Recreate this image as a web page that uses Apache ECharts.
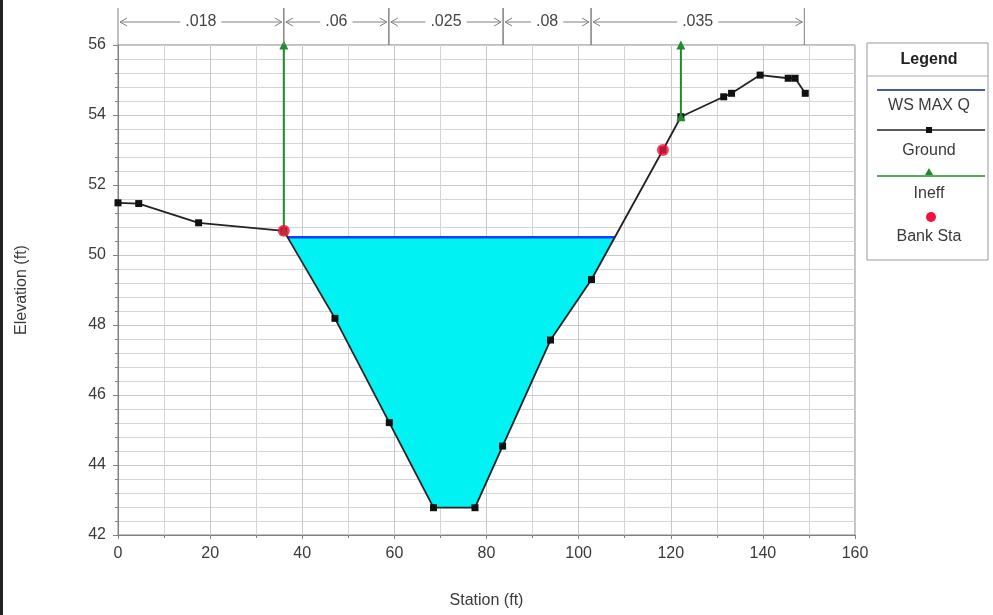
<!DOCTYPE html>
<html>
<head>
<meta charset="utf-8">
<script src="https://cdn.jsdelivr.net/npm/echarts@6/dist/echarts.min.js"></script>
<style>
  html, body { margin: 0; padding: 0; background: #fff; }
  #chart { width: 993px; height: 615px; }
</style>
</head>
<body>
<div id="chart"></div>
<script>
// cross section data
var groundSta = [0, 4.5, 17.5, 36, 47.1, 58.9, 68.5, 77.5, 83.5, 93.9, 102.8, 118.3, 122.2, 131.5, 133.2, 139.4, 145.5, 147, 149.2];
var groundElev = [51.49, 51.47, 50.92, 50.69, 48.19, 45.21, 42.78, 42.78, 44.54, 47.57, 49.3, 53.0, 53.95, 54.52, 54.62, 55.14, 55.05, 55.05, 54.62];
var wsElev = 50.51;
var bankSta = [36, 118.3];
var bankElev = [50.69, 53.0];
var ineffSta = [36, 122.2];
var ineffBottom = [50.69, 53.95];
var ineffTop = [56, 56];
var nSta = [0, 36, 58.8, 83.6, 102.7, 149];
var nVal = ['.018', '.06', '.025', '.08', '.035'];
var xTicks = [0, 160, 20];
var yTicks = [42, 56, 2];

var font = "'Liberation Sans', Arial, sans-serif";

//地面线
var ground = [];
for (var i = 0; i < groundSta.length; i++) {
	ground.push([groundSta[i], groundElev[i]]);
}

//水面多边形（地面线与水面的交点）
function waterPoly() {
	var pts = [];
	for (var i = 0; i < ground.length - 1; i++) {
		var a = ground[i], b = ground[i + 1];
		if (a[1] <= wsElev) pts.push(a);
		if ((a[1] - wsElev) * (b[1] - wsElev) < 0) {
			var t = (wsElev - a[1]) / (b[1] - a[1]);
			pts.push([a[0] + t * (b[0] - a[0]), wsElev]);
		}
	}
	return pts;
}
var water = waterPoly();
var wsLine = [water[0], water[water.length - 1]];

var bank = [];
for (var i = 0; i < bankSta.length; i++) bank.push([bankSta[i], bankElev[i]]);

var nData = [];
for (var i = 0; i < nVal.length; i++) nData.push([nSta[i], nSta[i + 1]]);

var ineffSeries = [];
for (var i = 0; i < ineffSta.length; i++) {
	ineffSeries.push({
		type: 'line',
		data: [[ineffSta[i], ineffBottom[i]], [ineffSta[i], ineffTop[i]]],
		symbol: 'triangle',
		symbolSize: 9,
		clip: false,
		z: 4,
		lineStyle: { color: '#1f8a2e', width: 2 },
		itemStyle: { color: '#1f8a2e' },
		silent: true
	});
}

var container = echarts.init(document.getElementById('chart'));

var gray = '#808080';
var txt = '#3a3a3a';
var lx = 877, lx2 = 985, lc = 929;

option = {
	animation: false,
	backgroundColor: '#fff',
	grid: { left: 118, right: 138, top: 45, bottom: 80, show: true, borderColor: gray, borderWidth: 1 },
	xAxis: {
		type: 'value',
		min: xTicks[0], max: xTicks[1], interval: xTicks[2],
		name: 'Station (ft)', nameLocation: 'middle', nameGap: 58,
		nameTextStyle: { fontFamily: font, fontSize: 16, color: txt },
		axisLine: { show: true, lineStyle: { color: gray } },
		axisTick: { show: true, length: 4, lineStyle: { color: gray } },
		axisLabel: { fontFamily: font, fontSize: 16, color: txt, margin: 11 },
		splitLine: { show: true, lineStyle: { color: '#c8c8c8' } },
		minorTick: { show: true, splitNumber: 2, length: 3, lineStyle: { color: gray } },
		minorSplitLine: { show: true, lineStyle: { color: '#d4d4d4' } }
	},
	yAxis: {
		type: 'value',
		min: yTicks[0], max: yTicks[1], interval: yTicks[2],
		name: 'Elevation (ft)', nameLocation: 'middle', nameGap: 88,
		nameTextStyle: { fontFamily: font, fontSize: 16, color: txt },
		axisLine: { show: true, lineStyle: { color: gray } },
		axisTick: { show: true, length: 5, lineStyle: { color: gray } },
		axisLabel: { fontFamily: font, fontSize: 16, color: txt, margin: 12 },
		splitLine: { show: true, lineStyle: { color: '#c8c8c8' } },
		minorTick: { show: true, splitNumber: 5, length: 3, lineStyle: { color: gray } },
		minorSplitLine: { show: true, lineStyle: { color: '#d4d4d4' } }
	},
	series: [
		{
			// 水面填充
			type: 'custom',
			data: [0],
			z: 1,
			silent: true,
			renderItem: function (params, api) {
				var pts = water.map(function (p) { return api.coord(p); });
				return { type: 'polygon', shape: { points: pts }, style: { fill: '#00f2f2', stroke: null } };
			}
		},
		{
			type: 'line',
			data: wsLine,
			symbol: 'none',
			z: 2,
			lineStyle: { color: '#1a3cff', width: 2.5 },
			silent: true
		},
		{
			type: 'line',
			data: ground,
			symbol: 'rect',
			symbolSize: 7,
			z: 3,
			lineStyle: { color: '#222', width: 1.8 },
			itemStyle: { color: '#111' },
			silent: true
		}
	].concat(ineffSeries).concat([
		{
			type: 'scatter',
			data: bank,
			symbol: 'circle',
			symbolSize: 12,
			z: 5,
			itemStyle: { color: '#f0143c' },
			silent: true
		},
		{
			// 曼宁系数标注
			type: 'custom',
			data: nData,
			clip: false,
			silent: true,
			z: 6,
			renderItem: function (params, api) {
				var p0 = api.coord([api.value(0), 56]);
				var p1 = api.coord([api.value(1), 56]);
				var y = p0[1] - 23;
				var st = { stroke: gray, lineWidth: 1, fill: null };
				return {
					type: 'group',
					children: [
						{ type: 'line', shape: { x1: p0[0], y1: y - 14, x2: p0[0], y2: p0[1] }, style: st },
						{ type: 'line', shape: { x1: p1[0], y1: y - 14, x2: p1[0], y2: p0[1] }, style: st },
						{ type: 'line', shape: { x1: p0[0] + 2, y1: y, x2: p1[0] - 2, y2: y }, style: st },
						{ type: 'polyline', shape: { points: [[p0[0] + 9, y - 4], [p0[0] + 2, y], [p0[0] + 9, y + 4]] }, style: st },
						{ type: 'polyline', shape: { points: [[p1[0] - 9, y - 4], [p1[0] - 2, y], [p1[0] - 9, y + 4]] }, style: st },
						{
							type: 'text',
							x: (p0[0] + p1[0]) / 2, y: y,
							style: {
								text: nVal[params.dataIndex], fontFamily: font, fontSize: 16, fill: '#444',
								align: 'center', verticalAlign: 'middle',
								backgroundColor: '#fff', padding: [0, 5]
							}
						}
					]
				};
			}
		}
	]),
	graphic: [
		{ type: 'rect', left: 0, top: 0, shape: { width: 3, height: 615 }, style: { fill: '#222' } },
		{ type: 'rect', shape: { x: 867, y: 43, width: 121, height: 217 }, style: { fill: '#fff', stroke: '#999', lineWidth: 1 } },
		{ type: 'text', x: lc, y: 60, style: { text: 'Legend', fontFamily: font, fontSize: 16, fontWeight: 'bold', fill: '#222', align: 'center', verticalAlign: 'middle' } },
		{ type: 'line', shape: { x1: 867, y1: 76, x2: 988, y2: 76 }, style: { stroke: '#aaa', lineWidth: 1 } },
		{ type: 'line', shape: { x1: lx, y1: 90, x2: lx2, y2: 90 }, style: { stroke: '#4a5aa8', lineWidth: 2 } },
		{ type: 'text', x: lc, y: 106, style: { text: 'WS MAX Q', fontFamily: font, fontSize: 16, fill: txt, align: 'center', verticalAlign: 'middle' } },
		{ type: 'line', shape: { x1: lx, y1: 130, x2: lx2, y2: 130 }, style: { stroke: '#222', lineWidth: 1.5 } },
		{ type: 'rect', shape: { x: lc - 3, y: 127, width: 6, height: 6 }, style: { fill: '#111' } },
		{ type: 'text', x: lc, y: 151, style: { text: 'Ground', fontFamily: font, fontSize: 16, fill: txt, align: 'center', verticalAlign: 'middle' } },
		{ type: 'line', shape: { x1: lx, y1: 176, x2: lx2, y2: 176 }, style: { stroke: '#1f8a2e', lineWidth: 1.5 } },
		{ type: 'polygon', shape: { points: [[lc, 168], [lc - 4, 175], [lc + 4, 175]] }, style: { fill: '#1f8a2e' } },
		{ type: 'text', x: lc, y: 194, style: { text: 'Ineff', fontFamily: font, fontSize: 16, fill: txt, align: 'center', verticalAlign: 'middle' } },
		{ type: 'circle', shape: { cx: lc + 2, cy: 217, r: 5 }, style: { fill: '#f0143c' } },
		{ type: 'text', x: lc, y: 237, style: { text: 'Bank Sta', fontFamily: font, fontSize: 16, fill: txt, align: 'center', verticalAlign: 'middle' } }
	]
};
container.setOption(option, true);
</script>
</body>
</html>
